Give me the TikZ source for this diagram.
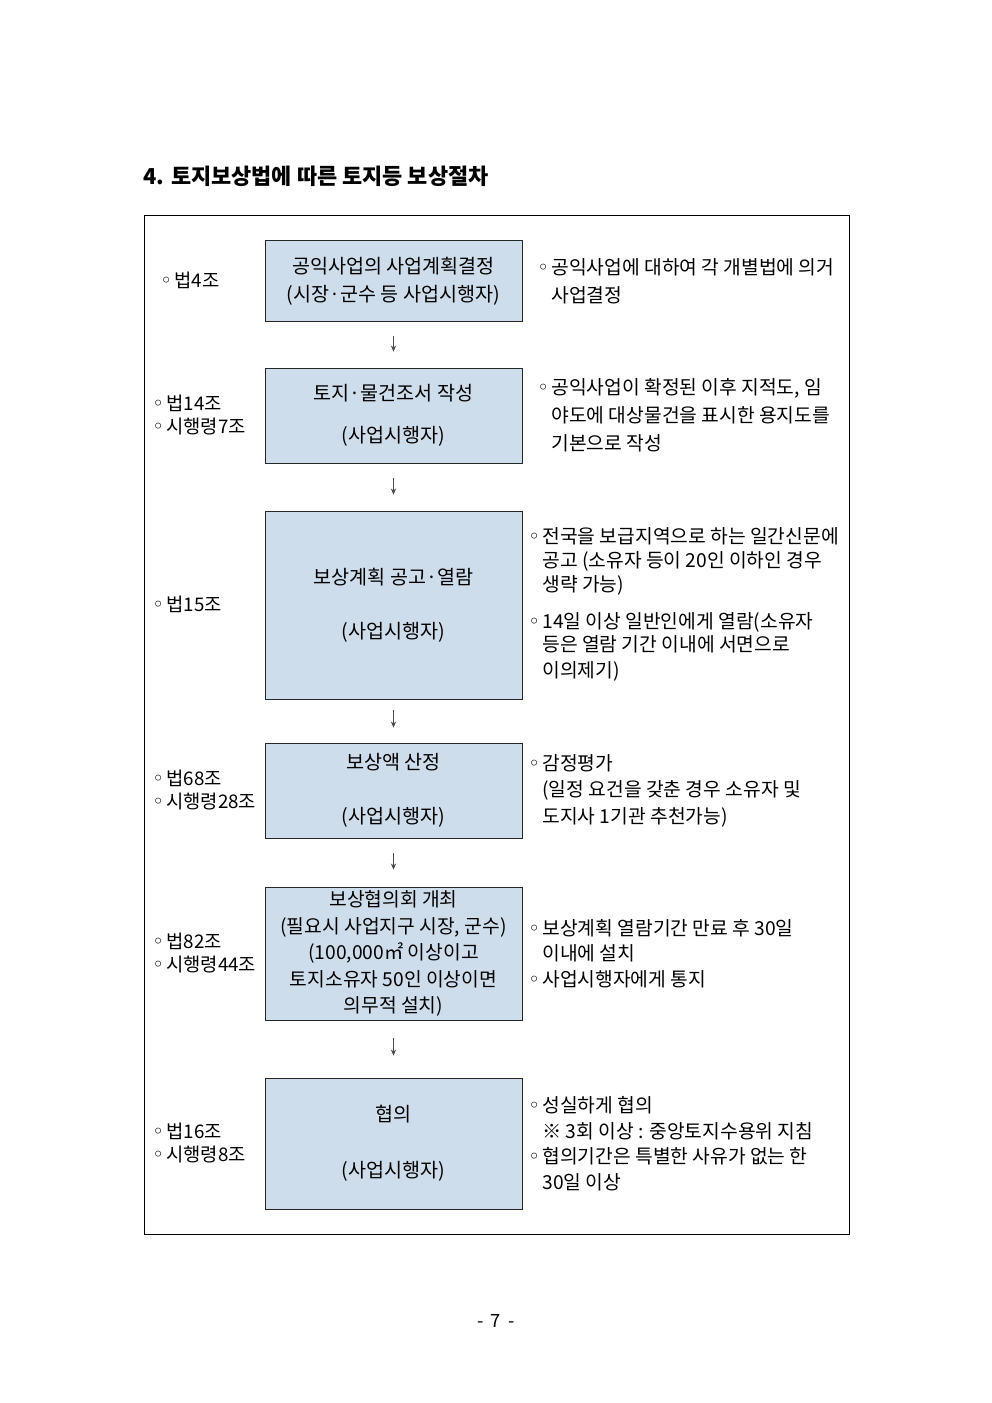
\documentclass[tikz,border=0pt]{standalone}
\usepackage{fontspec}
\setmainfont{Noto Sans CJK KR}
\newfontfamily\symfont{DejaVu Sans}
\usepackage{tikz}
\usetikzlibrary{positioning,arrows.meta}
\definecolor{stagefill}{RGB}{206,221,236}
\newcommand{\bul}{{\symfont\fontsize{12}{12}\selectfont\char"25E6}\hspace{0.12em}}

\begin{document}
\begin{tikzpicture}[
  x = 0.2117mm,
  y = -0.2117mm,
  stage/.style = {
    draw = black!85,
    fill = stagefill,
    inner sep = 0pt,
    align = center,
    minimum width = 54.4mm,
    font = \fontsize{11.8}{16.8}\selectfont,
  },
  law/.style = {
    anchor = west,
    align = left,
    inner sep = 0pt,
    font = \fontsize{11.3}{14.4}\selectfont,
  },
  note/.style = {
    law,
    font = \fontsize{11.6}{14.4}\selectfont,
  },
  flow/.style = {
    ->,
    draw = black!70,
    line width = 0.5pt,
  },
  >={Stealth[length=1.3mm,width=1.1mm]},
]

  \useasboundingbox (0,0) rectangle (992,1403);

  \node[anchor=west,inner sep=0pt,font=\fontsize{13.2}{15}\selectfont\bfseries] (title) at (143,176) {4. 토지보상법에 따른 토지등 보상절차};
  \draw[line width=0.6pt] (144,215) rectangle (849,1234);

  % procedure boxes
  \node[stage,minimum height=17.15mm] (s1) at (393.5,281) {공익사업의 사업계획결정\\(시장·군수 등 사업시행자)};
  \node[stage,minimum height=20.11mm] (s2) at (393.5,415.5) {토지·물건조서 작성\\[8.4pt](사업시행자)};
  \node[stage,minimum height=39.8mm] (s3) at (393.5,605) {보상계획 공고·열람\\[16pt](사업시행자)};
  \node[stage,minimum height=20.11mm] (s4) at (393.5,790.5) {보상액 산정\\[16pt](사업시행자)};
  \node[stage,minimum height=28.16mm,font=\fontsize{11.6}{16}\selectfont] (s5) at (393.5,953.5) {보상협의회 개최\\(필요시 사업지구 시장, 군수)\\(100,000㎡ 이상이고\\토지소유자 50인 이상이면\\의무적 설치)};
  \node[stage,minimum height=27.73mm] (s6) at (393.5,1143.5) {협의\\[16.7pt](사업시행자)};

  \path[flow] (s1) edge[shorten <=2.96mm,shorten >=3.39mm] (s2);
  \path[flow] (s2) edge[shorten <=3.18mm,shorten >=3.39mm] (s3);
  \path[flow] (s3) edge[shorten <=2.33mm,shorten >=3.18mm] (s4);
  \path[flow] (s4) edge[shorten <=3.18mm,shorten >=3.6mm] (s5);
  \path[flow] (s5) edge[shorten <=3.81mm,shorten >=4.66mm] (s6);

  % legal basis
  \node[law] (l1) at (160,280) {\bul 법4조};
  \node[law] (l2) at (152,415) {\bul 법14조\\\bul 시행령7조};
  \node[law] (l3) at (152,604) {\bul 법15조};
  \node[law] (l4) at (152,790) {\bul 법68조\\\bul 시행령28조};
  \node[law] (l5) at (152,953) {\bul 법82조\\\bul 시행령44조};
  \node[law] (l6) at (152,1143) {\bul 법16조\\\bul 시행령8조};

  % notes
  \node[note,font=\fontsize{11.6}{16.8}\selectfont] (n1) at (537,281) {\bul 공익사업에 대하여 각 개별법에 의거\\\hphantom{\bul}사업결정};
  \node[note,font=\fontsize{11.6}{16.8}\selectfont] (n2) at (537,415) {\bul 공익사업이 확정된 이후 지적도, 임\\\hphantom{\bul}야도에 대상물건을 표시한 용지도를\\\hphantom{\bul}기본으로 작성};
  \node[note] (n3) at (528,604.5) {\bul 전국을 보급지역으로 하는 일간신문에\\\hphantom{\bul}공고 (소유자 등이 20인 이하인 경우\\\hphantom{\bul}생략 가능)\\[7.8pt]\bul 14일 이상 일반인에게 열람(소유자\\\hphantom{\bul}등은 열람 기간 이내에 서면으로\\[1.2pt]\hphantom{\bul}이의제기)};
  \node[note,font=\fontsize{11.6}{16}\selectfont] (n4) at (528,790.5) {\bul 감정평가\\\hphantom{\bul}(일정 요건을 갖춘 경우 소유자 및\\\hphantom{\bul}도지사 1기관 추천가능)};
  \node[note,font=\fontsize{11.6}{15.3}\selectfont] (n5) at (528,953.5) {\bul 보상계획 열람기간 만료 후 30일\\\hphantom{\bul}이내에 설치\\\bul 사업시행자에게 통지};
  \node[note,font=\fontsize{11.6}{15.4}\selectfont] (n6) at (528,1143.5) {\bul 성실하게 협의\\\hphantom{\bul}※ 3회 이상 : 중앙토지수용위 지침\\\bul 협의기간은 특별한 사유가 없는 한\\\hphantom{\bul}30일 이상};

  \node[font=\fontsize{11}{12}\selectfont] (page) at (496,1321) {-\hspace{0.4em}7\hspace{0.4em}-};

\end{tikzpicture}
\end{document}
